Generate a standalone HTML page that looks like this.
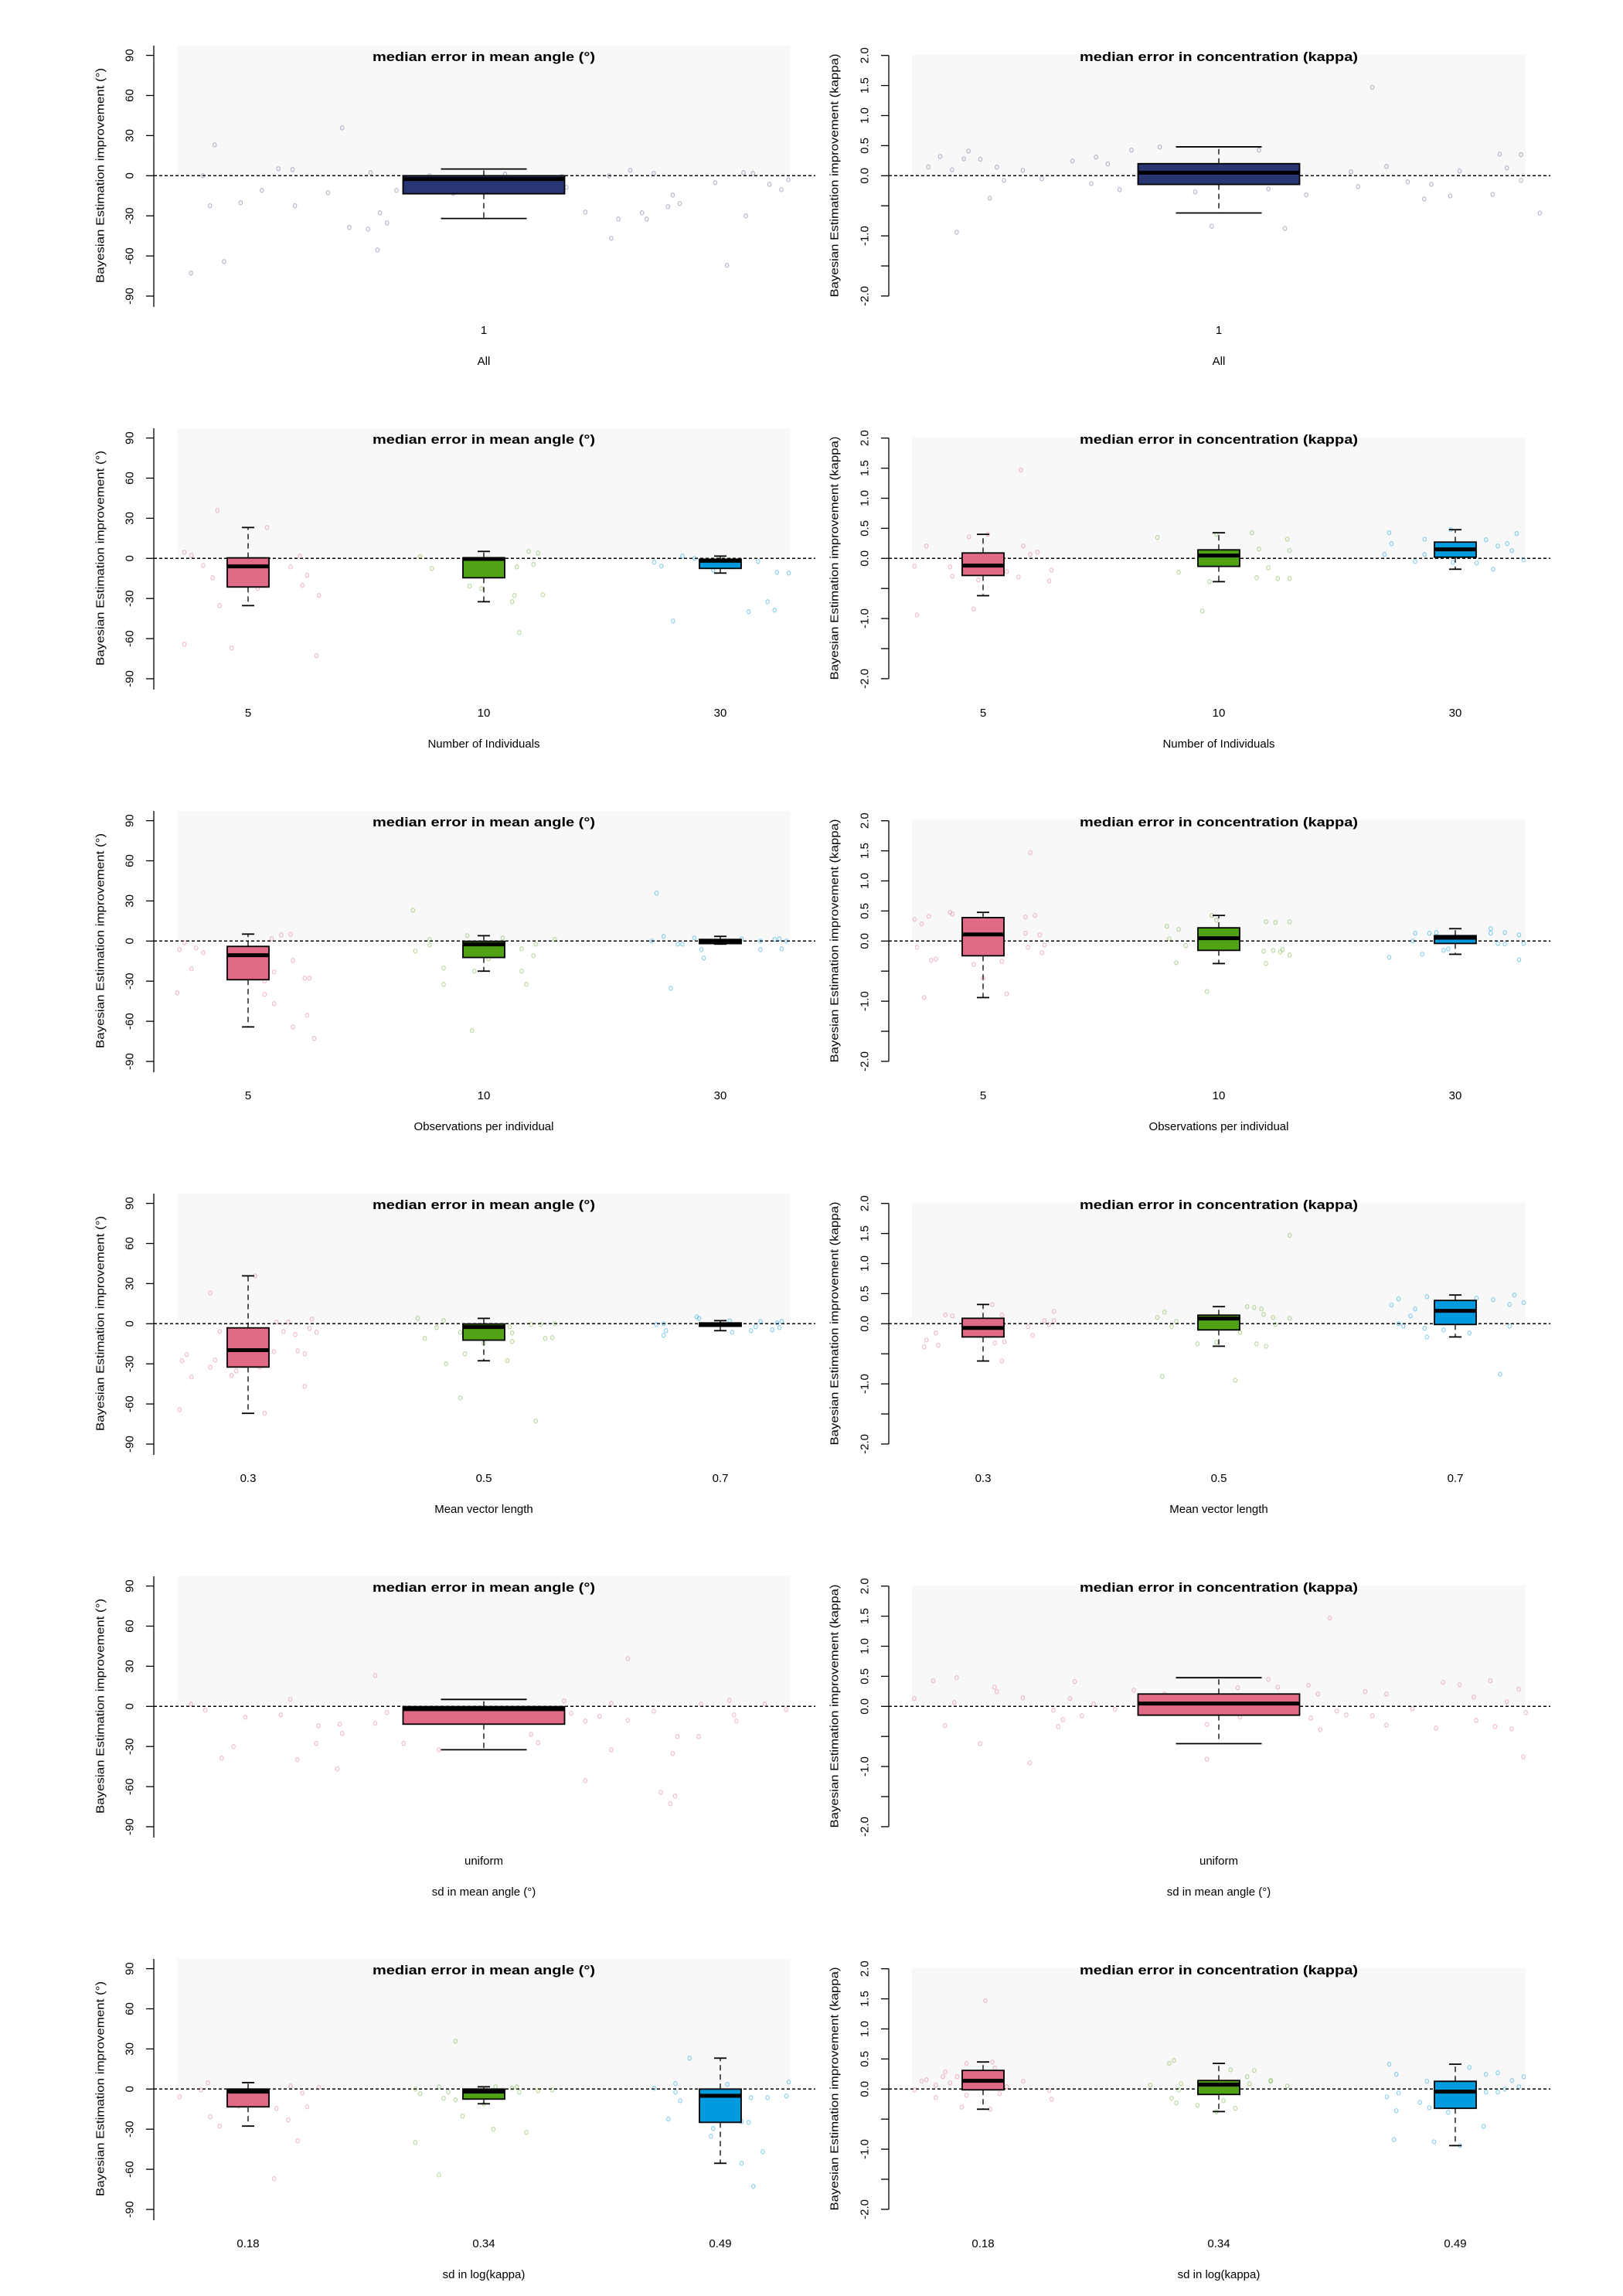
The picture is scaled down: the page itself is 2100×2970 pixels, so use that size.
<!DOCTYPE html>
<html><head><meta charset="utf-8"><title>Bayesian Estimation improvement boxplots</title>
<style>
html,body{margin:0;padding:0;background:#fff;}
svg{display:block;font-family:"Liberation Sans",Arial,sans-serif;}
</style></head>
<body>
<svg id="chart" xmlns="http://www.w3.org/2000/svg" width="2100" height="2970" viewBox="0 0 2100 2970"></svg>
<script>
// ---------- data ----------
const angleTicks=[90,60,30,0,-30,-60,-90];
const kappaTicks=[2,1.5,1,0.5,0,-0.5,-1,-1.5,-2];
const kappaTickLabels=["2.0","1.5","1.0","0.5","0.0","","-1.0","","-2.0"];

const catsAll=["1"];
const catsInd=["5","10","30"];
const catsObs=["5","10","30"];
const catsMvl=["0.3","0.5","0.7"];
const catsSdMean=["uniform"];
const catsSdK=["0.18","0.34","0.49"];

const xTitles=["All","Number of Individuals","Observations per individual","Mean vector length","sd in mean angle (°)","sd in log(kappa)"];

// box stats: whisker low, q1, median, q3, whisker high
const r1a_lo=[-32],r1a_q1=[-13.5],r1a_md=[-2.5],r1a_q3=[0],r1a_hi=[5];
const r1k_lo=[-0.62],r1k_q1=[-0.145],r1k_md=[0.05],r1k_q3=[0.2],r1k_hi=[0.48];
const r2a_lo=[-35.3,-32.4,-11],r2a_q1=[-21.4,-14.5,-7.5],r2a_md=[-6,-0.4,-1.8],r2a_q3=[0.4,0.4,-0.6],r2a_hi=[23.1,5.2,1.7];
const r2k_lo=[-0.62,-0.387,-0.18],r2k_q1=[-0.284,-0.133,0.02],r2k_md=[-0.12,0.047,0.15],r2k_q3=[0.09,0.142,0.271],r2k_hi=[0.4,0.426,0.477];
const r3a_lo=[-64.2,-22.5,-2.3],r3a_q1=[-28.9,-12.3,-1.9],r3a_md=[-10.6,-2.5,0],r3a_q3=[-4,-0.2,1.2],r3a_hi=[5.2,4,3.5];
const r3k_lo=[-0.94,-0.374,-0.22],r3k_q1=[-0.245,-0.155,-0.04],r3k_md=[0.11,0.047,0.056],r3k_q3=[0.39,0.22,0.09],r3k_hi=[0.477,0.426,0.206];
const r4a_lo=[-67,-27.7,-5.2],r4a_q1=[-32.4,-12.3,-1.9],r4a_md=[-19.8,-2.5,-0.6],r4a_q3=[-3.1,-0.2,0.6],r4a_hi=[35.8,4,2.3];
const r4k_lo=[-0.62,-0.374,-0.22],r4k_q1=[-0.22,-0.103,-0.013],r4k_md=[-0.07,0.086,0.215],r4k_q3=[0.09,0.142,0.387],r4k_hi=[0.32,0.284,0.477];
const r5a_lo=[-32.4],r5a_q1=[-13.3],r5a_md=[-2.1],r5a_q3=[-0.2],r5a_hi=[5.2];
const r5k_lo=[-0.62],r5k_q1=[-0.146],r5k_md=[0.047],r5k_q3=[0.206],r5k_hi=[0.477];
const r6a_lo=[-27.7,-11,-55.5],r6a_q1=[-13.3,-7.5,-24.9],r6a_md=[-1.9,-1.9,-5],r6a_q3=[0,0,0],r6a_hi=[4.8,1.7,23.1];
const r6k_lo=[-0.335,-0.374,-0.94],r6k_q1=[-0.013,-0.09,-0.32],r6k_md=[0.138,0.073,-0.043],r6k_q3=[0.31,0.142,0.129],r6k_hi=[0.45,0.426,0.413];

// jittered raw points: [group, jitter, value]
const r1a_pts=[[0,-1.24,-72.8],[0,-1.14,23.1],[0,-1.10,-64.2],[0,-1.16,-22.5],[0,-1.03,-20.2],[0,-0.94,-11],[0,-0.87,5.2],[0,-0.80,-22.5],[0,-0.66,-12.7],[0,-0.60,35.8],[0,-0.57,-38.7],[0,-0.49,-39.9],[0,-0.45,-55.5],[0,-0.44,-27.7],[0,-0.41,-35.3],[0,-0.37,-11],[0,-0.14,-6.4],[0,-0.13,-13.3],[0,0.09,1.2],[0,0.35,-8.7],[0,0.43,-27.2],[0,0.54,-46.8],[0,0.57,-32.4],[0,0.62,4],[0,0.67,-27.7],[0,0.69,-32.4],[0,0.78,-23.1],[0,0.80,-14.5],[0,0.83,-20.8],[0,0.98,-5.2],[0,1.03,-67],[0,1.11,-30],[0,1.14,1.7],[0,1.21,-6.4],[0,1.26,-10.4],[0,1.29,-2.9],[0,-1.19,0],[0,-0.81,4.6],[0,-0.48,2.3],[0,-0.23,0],[0,0.33,-0.6],[0,0.53,0],[0,0.72,1.7],[0,1.10,2.3]];
const r1k_pts=[[0,-1.23,0.146],[0,-1.18,0.32],[0,-1.13,0.10],[0,-1.11,-0.94],[0,-1.08,0.28],[0,-1.06,0.41],[0,-1.01,0.275],[0,-0.97,-0.374],[0,-0.94,0.142],[0,-0.91,-0.077],[0,-0.83,0.09],[0,-0.75,-0.05],[0,-0.62,0.245],[0,-0.54,-0.13],[0,-0.52,0.31],[0,-0.47,0.194],[0,-0.42,-0.232],[0,-0.37,0.426],[0,-0.25,0.477],[0,-0.10,-0.27],[0,-0.03,-0.84],[0,0.17,0.426],[0,0.21,-0.22],[0,0.28,-0.877],[0,0.37,-0.32],[0,0.56,0.065],[0,0.59,-0.18],[0,0.65,1.47],[0,0.71,0.155],[0,0.80,-0.103],[0,0.87,-0.387],[0,0.90,-0.142],[0,0.98,-0.335],[0,1.02,0.077],[0,1.16,-0.31],[0,1.19,0.36],[0,1.22,0.13],[0,1.28,0.35],[0,1.28,-0.077],[0,1.36,-0.62]];
const r2a_pts=[[0,-0.27,4.6],[0,-0.24,2.3],[0,-0.19,-5.2],[0,-0.15,-14.5],[0,-0.13,35.8],[0,-0.12,-35.3],[0,-0.27,-64.2],[0,-0.07,-67],[0,0.08,23.1],[0,0.18,-6.4],[0,0.23,-20.2],[0,0.25,-12.7],[0,0.30,-27.7],[0,0.29,-72.8],[0,0.22,1.7],[0,0.04,-22.5],
[1,-0.27,1.2],[1,-0.22,-7.5],[1,-0.06,-20.8],[1,-0.01,-22.5],[1,0.12,-32.4],[1,0.13,-27.7],[1,0.15,-55.5],[1,0.19,5.2],[1,0.21,-4.6],[1,0.23,4],[1,0.25,-27.2],[1,0.14,-6.4],
[2,-0.28,-2.9],[2,-0.25,-5.8],[2,-0.20,-46.8],[2,-0.16,1.7],[2,-0.03,-8.7],[2,0.12,-39.9],[2,0.20,-32.4],[2,0.23,-38.7],[2,0.24,-10.4],[2,0.29,-11],[2,0.16,-2.3],[2,-0.11,0]];
const r2k_pts=[[0,-0.29,-0.13],[0,-0.28,-0.94],[0,-0.24,0.206],[0,-0.14,-0.142],[0,-0.13,-0.297],[0,-0.06,0.36],[0,-0.04,-0.84],[0,-0.02,-0.36],[0,0.02,0.40],[0,0.10,-0.22],[0,0.15,-0.31],[0,0.16,1.47],[0,0.17,0.206],[0,0.20,0.065],[0,0.23,0.103],[0,0.28,-0.374],[0,0.29,-0.194],
[1,-0.26,0.348],[1,-0.17,-0.23],[1,-0.07,-0.877],[1,-0.04,-0.387],[1,-0.01,0.40],[1,0.14,0.426],[1,0.16,-0.32],[1,0.17,0.155],[1,0.21,-0.155],[1,0.25,-0.335],[1,0.29,0.32],[1,0.30,-0.335],[1,0.30,0.13],
[2,-0.30,0.065],[2,-0.28,0.426],[2,-0.27,0.245],[2,-0.17,-0.05],[2,-0.13,0.32],[2,-0.13,0.065],[2,-0.02,0.477],[2,-0.01,-0.065],[2,0.09,-0.077],[2,0.13,0.31],[2,0.16,-0.18],[2,0.18,0.206],[2,0.22,0.245],[2,0.24,0.13],[2,0.26,0.413],[2,0.29,-0.026]];
const r3a_pts=[[0,-0.30,-38.7],[0,-0.29,-6.4],[0,-0.27,-1.2],[0,-0.24,-20.8],[0,-0.22,-5.2],[0,-0.19,-8.7],[0,-0.07,-27.2],[0,0.07,-30],[0,0.07,-39.9],[0,0.10,1.7],[0,0.11,-23.1],[0,0.11,-46.8],[0,0.14,4.6],[0,0.18,5.2],[0,0.19,-14.5],[0,0.19,-64.2],[0,0.24,-27.7],[0,0.26,-27.7],[0,0.25,-55.5],[0,0.28,-72.8],
[1,-0.30,23.1],[1,-0.29,-7.5],[1,-0.23,1.2],[1,-0.23,-2.9],[1,-0.17,-20.2],[1,-0.17,-32.4],[1,-0.07,4],[1,-0.05,-67],[1,-0.04,-22.5],[1,0.02,-13.3],[1,0.08,2.3],[1,0.16,-5.8],[1,0.16,-22.5],[1,0.18,-32.4],[1,0.21,-11],[1,0.22,-2.3],[1,0.30,1.2],
[2,-0.29,0],[2,-0.27,35.8],[2,-0.24,3.5],[2,-0.21,-35.3],[2,-0.18,-2.3],[2,-0.16,-2.3],[2,-0.11,2.3],[2,-0.08,-6.4],[2,-0.07,-12.7],[2,0.09,1.7],[2,0.17,-6.4],[2,0.17,0],[2,0.23,1.2],[2,0.25,1.7],[2,0.26,-5.8],[2,0.28,0]];
const r3k_pts=[[0,-0.29,0.36],[0,-0.28,-0.103],[0,-0.26,0.284],[0,-0.25,-0.94],[0,-0.23,0.413],[0,-0.22,-0.32],[0,-0.20,-0.30],[0,-0.14,0.477],[0,-0.13,0.45],[0,-0.04,-0.387],[0,0,-0.62],[0,0.08,-0.335],[0,0.10,-0.877],[0,0.18,0.40],[0,0.18,0.13],[0,0.19,-0.103],[0,0.20,1.47],[0,0.22,0.426],[0,0.24,0.103],[0,0.25,-0.194],[0,0.26,-0.065],
[1,-0.22,0.245],[1,-0.21,0.039],[1,-0.18,-0.36],[1,-0.17,0.194],[1,-0.14,-0.077],[1,-0.05,-0.84],[1,-0.03,0.426],[1,-0.01,0.35],[1,0.19,-0.168],[1,0.20,0.32],[1,0.20,-0.374],[1,0.23,-0.155],[1,0.24,0.31],[1,0.26,-0.18],[1,0.27,-0.142],[1,0.30,-0.232],[1,0.30,0.32],
[2,-0.28,-0.27],[2,-0.18,0],[2,-0.17,0.13],[2,-0.14,-0.22],[2,-0.11,0.13],[2,-0.08,0.142],[2,-0.05,-0.155],[2,-0.03,-0.13],[2,0.15,0.206],[2,0.15,0.13],[2,0.18,-0.04],[2,0.21,0.142],[2,0.21,-0.05],[2,0.27,0.103],[2,0.27,-0.31],[2,0.29,-0.04]];
const r4a_pts=[[0,-0.29,-64.2],[0,-0.28,-27.7],[0,-0.26,-23.1],[0,-0.24,-39.9],[0,-0.16,-32.4],[0,-0.16,23.1],[0,-0.14,-27.2],[0,-0.12,-5.8],[0,-0.08,-12.7],[0,-0.07,-38.7],[0,-0.05,-35.3],[0,0.03,35.8],[0,0.05,-32.4],[0,0.07,-67],[0,0.11,-20.8],[0,0.12,1.2],[0,0.15,-5.8],[0,0.17,1.2],[0,0.20,-8.1],[0,0.21,-20.2],[0,0.24,-46.8],[0,0.24,-22.5],[0,0.26,-3.5],[0,0.27,3.5],[0,0.29,-6.4],
[1,-0.28,4],[1,-0.25,-11],[1,-0.20,-2.9],[1,-0.17,2.3],[1,-0.16,-30],[1,-0.10,-55.5],[1,-0.10,-6.4],[1,-0.08,-22.5],[1,0,-14.5],[1,0.10,-27.7],[1,0.11,-2.3],[1,0.12,-6.9],[1,0.12,-13.3],[1,0.20,-0.6],[1,0.22,-72.8],[1,0.24,-0.6],[1,0.26,-11],[1,0.29,-10.4],[1,0.30,0],
[2,-0.27,-0.6],[2,-0.24,-8.7],[2,-0.24,0],[2,-0.23,-5.2],[2,-0.10,5.2],[2,-0.09,4],[2,0.04,2.3],[2,0.05,-6.4],[2,0.13,-5.2],[2,0.15,-2.3],[2,0.17,1.7],[2,0.22,-4.6],[2,0.25,-2.9],[2,0.26,1.7],[2,0.24,0.6]];
const r4k_pts=[[0,-0.25,-0.387],[0,-0.24,-0.27],[0,-0.20,-0.155],[0,-0.19,-0.36],[0,-0.16,0.146],[0,-0.13,0.13],[0,0.04,0.32],[0,0.05,-0.32],[0,0.08,-0.62],[0,0.08,0.146],[0,0.09,-0.30],[0,0.19,-0.05],[0,0.21,-0.194],[0,0.26,0.05],[0,0.28,-0.013],[0,0.30,0.206],[0,0.30,0.05],
[1,-0.26,0.103],[1,-0.24,-0.877],[1,-0.23,0.194],[1,-0.20,-0.05],[1,-0.18,0.039],[1,-0.09,-0.335],[1,-0.01,-0.31],[1,0.07,-0.94],[1,0.09,-0.146],[1,0.12,0.284],[1,0.15,0.27],[1,0.16,-0.335],[1,0.18,0.245],[1,0.19,0.155],[1,0.20,-0.374],[1,0.23,0.103],[1,0.24,-0.013],[1,0.30,0.09],[1,0.30,1.47],
[2,-0.27,0.31],[2,-0.24,0.413],[2,-0.24,0],[2,-0.22,-0.04],[2,-0.19,0.13],[2,-0.17,0.245],[2,-0.13,-0.077],[2,-0.12,-0.22],[2,-0.12,0.45],[2,-0.05,-0.103],[2,0.06,-0.155],[2,0.09,0.426],[2,0.16,0.40],[2,0.19,-0.84],[2,0.23,0.32],[2,0.23,-0.04],[2,0.25,0.477],[2,0.29,0.35]];
const r5a_pts=[[0,-1.24,1.7],[0,-1.18,-2.9],[0,-1.11,-38.7],[0,-1.06,-30],[0,-1.01,-8.1],[0,-0.86,-6.4],[0,-0.82,5.2],[0,-0.79,-39.9],[0,-0.71,-27.7],[0,-0.70,-14.5],[0,-0.62,-46.8],[0,-0.61,-13.3],[0,-0.60,-20.2],[0,-0.46,23.1],[0,-0.46,-12.7],[0,-0.41,-4.6],[0,-0.34,-27.7],[0,-0.19,-32.4],[0,-0.15,-6.9],[0,0.08,-5.2],[0,0.20,-20.8],[0,0.23,-27.2],[0,0.34,4],[0,0.37,-5.2],[0,0.43,-55.5],[0,0.43,-11],[0,0.49,-7.5],[0,0.54,-32.4],[0,0.54,2.3],[0,0.61,35.8],[0,0.61,-10.4],[0,0.72,-3.5],[0,0.75,-64.2],[0,0.79,-72.8],[0,0.80,-35.3],[0,0.81,-67],[0,0.82,-22.5],[0,0.91,-22.5],[0,0.92,1.7],[0,1.04,4.6],[0,1.06,-6.4],[0,1.07,-11],[0,1.19,1.7],[0,1.28,-2.3]];
const r5k_pts=[[0,-1.29,0.13],[0,-1.21,0.426],[0,-1.16,-0.32],[0,-1.11,0.477],[0,-1.12,0.065],[0,-1.01,-0.62],[0,-0.95,0.32],[0,-0.94,0.245],[0,-0.83,0.142],[0,-0.80,-0.94],[0,-0.70,-0.065],[0,-0.68,-0.335],[0,-0.66,-0.22],[0,-0.63,0.13],[0,-0.61,0.413],[0,-0.58,-0.155],[0,-0.53,0.039],[0,-0.44,-0.05],[0,-0.36,0.27],[0,-0.23,0.206],[0,-0.05,-0.30],[0,-0.05,-0.877],[0,0.08,0.31],[0,0.09,-0.18],[0,0.21,0.45],[0,0.25,0.32],[0,0.38,0.35],[0,0.39,-0.194],[0,0.42,0.206],[0,0.43,-0.387],[0,0.47,1.47],[0,0.50,-0.077],[0,0.54,-0.142],[0,0.62,0.245],[0,0.65,-0.155],[0,0.71,-0.31],[0,0.71,0.206],[0,0.82,-0.04],[0,0.92,-0.36],[0,0.95,0.40],[0,1.02,0.36],[0,1.08,0.155],[0,1.09,-0.232],[0,1.15,0.426],[0,1.17,-0.335],[0,1.22,0.077],[0,1.24,-0.374],[0,1.27,0.284],[0,1.29,-0.84],[0,1.30,-0.103]];
const r6a_pts=[[0,-0.29,-5.8],[0,-0.20,-0.6],[0,-0.17,4.6],[0,-0.16,-20.8],[0,-0.12,-27.7],[0,-0.07,-10.4],[0,-0.04,-12.7],[0,0.04,-5.8],[0,0.07,-4.6],[0,0.11,-67],[0,0.12,-14.5],[0,0.17,-23.1],[0,0.18,2.3],[0,0.21,-38.7],[0,0.23,-2.9],[0,0.25,-13.3],[0,0.30,1.2],
[1,-0.29,0],[1,-0.27,-3.5],[1,-0.19,1.7],[1,-0.17,-6.9],[1,-0.15,-2.3],[1,-0.12,-8.1],[1,-0.12,35.8],[1,-0.09,-20.2],[1,-0.07,-6.4],[1,0,-11],[1,0.04,-30],[1,0.05,1.7],[1,0.12,0.6],[1,0.14,1.7],[1,0.15,-2.3],[1,0.18,-32.4],[1,0.23,-1.2],[1,0.29,-0.6],[1,-0.19,-64.2],[1,-0.29,-39.9],
[2,-0.28,0.6],[2,-0.22,-22.5],[2,-0.19,-2.3],[2,-0.19,4],[2,-0.17,-8.7],[2,-0.13,23.1],[2,-0.08,-11],[2,-0.04,-35.3],[2,-0.03,-29.5],[2,0.03,3.5],[2,0.09,-55.5],[2,0.09,-24.3],[2,0.12,-24.9],[2,0.13,-6.4],[2,0.14,-72.8],[2,0.18,-46.8],[2,0.20,-6.4],[2,0.28,-5.2],[2,0.29,5.2]];
const r6k_pts=[[0,-0.29,-0.013],[0,-0.26,0.13],[0,-0.24,0.155],[0,-0.20,0.065],[0,-0.20,-0.142],[0,-0.17,0.206],[0,-0.16,0.284],[0,-0.14,0.103],[0,-0.11,0.206],[0,-0.09,-0.30],[0,-0.07,-0.103],[0,-0.07,0.426],[0,0.01,1.47],[0,0.03,-0.335],[0,0.04,0.45],[0,0.05,0.35],[0,0.07,-0.077],[0,0.10,0.039],[0,0.17,0.13],[0,0.28,-0.026],[0,0.29,-0.168],
[1,-0.29,0.065],[1,-0.21,0.426],[1,-0.19,0.477],[1,-0.20,-0.155],[1,-0.18,-0.232],[1,-0.17,-0.013],[1,-0.16,0.09],[1,-0.09,-0.27],[1,0.02,-0.194],[1,0.05,0.32],[1,0.07,-0.32],[1,0.12,0.206],[1,0.13,0.09],[1,0.15,0.31],[1,0.22,0.142],[1,0.22,0.13],[1,0.29,0.05],[1,-0.01,-0.374],
[2,-0.29,-0.13],[2,-0.28,0.413],[2,-0.26,-0.84],[2,-0.25,-0.36],[2,-0.25,0.245],[2,-0.24,-0.065],[2,-0.15,-0.22],[2,-0.12,0.13],[2,-0.11,-0.31],[2,-0.09,-0.877],[2,-0.03,-0.387],[2,0.02,-0.94],[2,0.06,0.36],[2,0.12,-0.62],[2,0.13,0.245],[2,0.13,-0.05],[2,0.18,0.27],[2,0.18,-0.05],[2,0.21,0],[2,0.24,0.142],[2,0.27,0.039],[2,0.29,0.206]];

// ---------- drawing ----------
const NS="http://www.w3.org/2000/svg";
const svg=document.getElementById("chart");
function mk(tag,attrs,parent){const e=document.createElementNS(NS,tag);for(const k in attrs)e.setAttribute(k,attrs[k]);parent.appendChild(e);return e;}

const FILL3=["#E16A86","#50A315","#009ADE"];
const PT3=["rgba(225,106,134,0.45)","rgba(80,163,21,0.40)","rgba(0,154,222,0.45)"];
const NAVY="#283673", NAVYPT="rgba(70,80,130,0.40)";
const GROUP_SPACING=305.5;

function drawPanel(r,side,cats,lo,q1,md,q3,hi,pts,fills,ptCols,xtitle){
  const base=40+495*r;
  const zero=base+187.3;
  const off=side?951:0;
  const ax=199+off;
  const isK=side===1;
  const y=v=>isK?zero-v*77.8:zero-v*1.730;
  const single=cats.length===1;
  const centers=single?[626+off]:[321+off,626+off,932+off];
  const xOf=(g,j)=>centers[g]+j*GROUP_SPACING;

  const g=mk("g",{},svg);
  
  

  const topY=isK?y(2)-1:base+19;
  const bg=mk("rect",{x:229+off,y:topY,width:794,height:zero-topY,fill:"#f8f8f8"},g);
  
  

  const ttl=mk("text",{x:626+off,y:base+39,"text-anchor":"middle","font-size":17,"font-weight":"bold",textLength:isK?360:288,lengthAdjust:"spacingAndGlyphs",fill:"#000"},g);
  ttl.textContent=isK?"median error in concentration (kappa)":"median error in mean angle (°)";
  
  

  // y axis
  const ay1=isK?y(2):base+19, ay2=isK?y(-2):base+357;
  const axl=mk("line",{x1:ax,y1:ay1,x2:ax,y2:ay2,stroke:"#000","stroke-width":1.3},g);
  
  
  const ticks=isK?kappaTicks:angleTicks;
  ticks.forEach((t,i)=>{
    const ty=y(t);
    const tk=mk("line",{x1:ax-10,y1:ty,x2:ax,y2:ty,stroke:"#000","stroke-width":1.3},g);
    
    
    const lab=isK?kappaTickLabels[i]:String(t);
    if(lab){
      const tx=ax-31;
      const tl=mk("text",{x:tx,y:ty,"text-anchor":"middle","font-size":15,fill:"#000",transform:`rotate(-90 ${tx} ${ty})`,"dominant-baseline":"central"},g);
      tl.textContent=lab;
      
      
    }
  });
  const ytx=isK?1080:130, yty=base+187;
  const yt=mk("text",{x:ytx,y:yty,"text-anchor":"middle","font-size":15,fill:"#000","dominant-baseline":"central",textLength:isK?315:278,lengthAdjust:"spacingAndGlyphs",transform:`rotate(-90 ${ytx} ${yty})`},g);
  yt.textContent=isK?"Bayesian Estimation improvement (kappa)":"Bayesian Estimation improvement (°)";
  
  

  // zero reference line
  const zl=mk("line",{x1:ax,y1:zero,x2:ax+856,y2:zero,stroke:"#000","stroke-width":1.5,"stroke-dasharray":"4,3"},g);
  
  

  // points
  pts.forEach(p=>{
    const c=mk("ellipse",{cx:xOf(p[0],p[1]),cy:y(p[2]),rx:2.2,ry:2.6,fill:"none",stroke:ptCols[p[0]],"stroke-width":1.2},g);
    
    
  });

  // boxes
  const bw=single?209:54, cw=single?111:16;
  cats.forEach((cat,i)=>{
    const cx=centers[i];
    const w1=mk("line",{x1:cx,y1:y(q3[i]),x2:cx,y2:y(hi[i]),stroke:"#000","stroke-width":1.3,"stroke-dasharray":"7,5"},g);
    
    
    const w2=mk("line",{x1:cx,y1:y(q1[i]),x2:cx,y2:y(lo[i]),stroke:"#000","stroke-width":1.3,"stroke-dasharray":"7,5"},g);
    
    
    const c1=mk("line",{x1:cx-cw/2,y1:y(hi[i]),x2:cx+cw/2,y2:y(hi[i]),stroke:"#000","stroke-width":1.8},g);
    
    
    const c2=mk("line",{x1:cx-cw/2,y1:y(lo[i]),x2:cx+cw/2,y2:y(lo[i]),stroke:"#000","stroke-width":1.8},g);
    
    
    const yt3=y(q3[i]), yb1=y(q1[i]);
    const bx=mk("rect",{x:cx-bw/2,y:Math.min(yt3,yb1),width:bw,height:Math.max(1,Math.abs(yb1-yt3)),fill:fills[i],stroke:"#000","stroke-width":1.8},g);
    
    
    const ml=mk("line",{x1:cx-bw/2,y1:y(md[i]),x2:cx+bw/2,y2:y(md[i]),stroke:"#000","stroke-width":5},g);
    
    
    const xl=mk("text",{x:cx,y:base+392,"text-anchor":"middle","font-size":15,fill:"#000"},g);
    xl.textContent=cat;
    
    
  });
  const xt=mk("text",{x:626+off,y:base+432,"text-anchor":"middle","font-size":15,fill:"#000"},g);
  xt.textContent=xtitle;
  
  
}

drawPanel(0,0,catsAll,r1a_lo,r1a_q1,r1a_md,r1a_q3,r1a_hi,r1a_pts,[NAVY],[NAVYPT],xTitles[0]);
drawPanel(0,1,catsAll,r1k_lo,r1k_q1,r1k_md,r1k_q3,r1k_hi,r1k_pts,[NAVY],[NAVYPT],xTitles[0]);
drawPanel(1,0,catsInd,r2a_lo,r2a_q1,r2a_md,r2a_q3,r2a_hi,r2a_pts,FILL3,PT3,xTitles[1]);
drawPanel(1,1,catsInd,r2k_lo,r2k_q1,r2k_md,r2k_q3,r2k_hi,r2k_pts,FILL3,PT3,xTitles[1]);
drawPanel(2,0,catsObs,r3a_lo,r3a_q1,r3a_md,r3a_q3,r3a_hi,r3a_pts,FILL3,PT3,xTitles[2]);
drawPanel(2,1,catsObs,r3k_lo,r3k_q1,r3k_md,r3k_q3,r3k_hi,r3k_pts,FILL3,PT3,xTitles[2]);
drawPanel(3,0,catsMvl,r4a_lo,r4a_q1,r4a_md,r4a_q3,r4a_hi,r4a_pts,FILL3,PT3,xTitles[3]);
drawPanel(3,1,catsMvl,r4k_lo,r4k_q1,r4k_md,r4k_q3,r4k_hi,r4k_pts,FILL3,PT3,xTitles[3]);
drawPanel(4,0,catsSdMean,r5a_lo,r5a_q1,r5a_md,r5a_q3,r5a_hi,r5a_pts,[FILL3[0]],[PT3[0]],xTitles[4]);
drawPanel(4,1,catsSdMean,r5k_lo,r5k_q1,r5k_md,r5k_q3,r5k_hi,r5k_pts,[FILL3[0]],[PT3[0]],xTitles[4]);
drawPanel(5,0,catsSdK,r6a_lo,r6a_q1,r6a_md,r6a_q3,r6a_hi,r6a_pts,FILL3,PT3,xTitles[5]);
drawPanel(5,1,catsSdK,r6k_lo,r6k_q1,r6k_md,r6k_q3,r6k_hi,r6k_pts,FILL3,PT3,xTitles[5]);
</script>
</body></html>
